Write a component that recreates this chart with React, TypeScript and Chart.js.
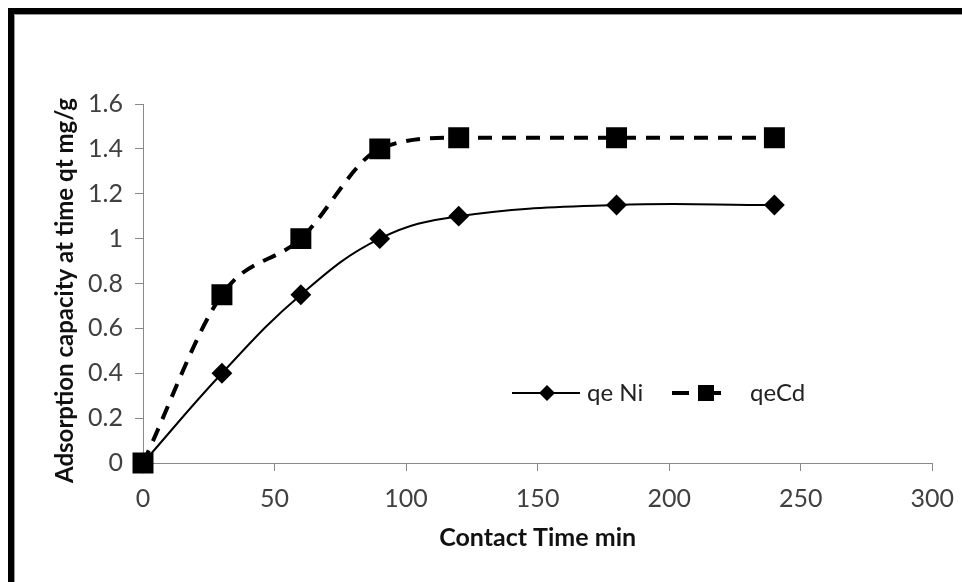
import React, { useEffect, useRef } from "react";
import { Chart, registerables } from "chart.js";

Chart.register(...registerables);

const contactTime = [0, 30, 60, 90, 120, 180, 240];
const qeNi = [0, 0.4, 0.75, 1.0, 1.1, 1.15, 1.15];
const qeCd = [0, 0.75, 1.0, 1.4, 1.45, 1.45, 1.45];
const seriesLabels = ["qe Ni", "qeCd"];
const xTitle = "Contact Time min";
const yTitle = "Adsorption capacity at time qt mg/g";

const FONT = "Lato, 'Open Sans', sans-serif";

const legendPlugin = {
  id: "customLegend",
  afterDraw(chart: any) {
    const { ctx, chartArea: a } = chart;
    const y = a.top + (a.bottom - a.top) * 0.805;
    const L = a.left;
    ctx.save();
    ctx.strokeStyle = "#000";
    ctx.lineWidth = 2;
    ctx.setLineDash([]);
    ctx.beginPath();
    ctx.moveTo(L + 369, y);
    ctx.lineTo(L + 437, y);
    ctx.stroke();
    ctx.fillStyle = "#000";
    const dx = L + 404;
    const r = 8;
    ctx.beginPath();
    ctx.moveTo(dx - r, y);
    ctx.lineTo(dx, y - r);
    ctx.lineTo(dx + r, y);
    ctx.lineTo(dx, y + r);
    ctx.closePath();
    ctx.fill();
    ctx.font = `24px ${FONT}`;
    ctx.textBaseline = "middle";
    ctx.textAlign = "left";
    ctx.fillStyle = "#222";
    ctx.fillText(seriesLabels[0], L + 444, y);
    ctx.lineWidth = 4;
    ctx.strokeStyle = "#000";
    ctx.beginPath();
    ctx.moveTo(L + 529, y);
    ctx.lineTo(L + 546, y);
    ctx.moveTo(L + 570, y);
    ctx.lineTo(L + 578, y);
    ctx.stroke();
    ctx.fillStyle = "#000";
    ctx.fillRect(L + 555, y - 8, 16, 16);
    ctx.fillStyle = "#222";
    ctx.fillText(seriesLabels[1], L + 607, y);

    // y-axis title (slightly below axis centre, as in the original)
    ctx.translate(a.left - 78, (a.top + a.bottom) / 2 + 7);
    ctx.rotate(-Math.PI / 2);
    ctx.font = `bold 24px ${FONT}`;
    ctx.textAlign = "center";
    ctx.textBaseline = "middle";
    ctx.fillStyle = "#111";
    ctx.fillText(yTitle, 0, 0);
    ctx.restore();
  },
};

export default function App() {
  const ref = useRef<HTMLCanvasElement>(null);
  useEffect(() => {
    if (!ref.current) return;
    const chart = new Chart(ref.current, {
      type: "line",
      data: {
        datasets: [
          {
            label: seriesLabels[0],
            data: contactTime.map((t, i) => ({ x: t, y: qeNi[i] })),
            borderColor: "#000",
            backgroundColor: "#000",
            borderWidth: 2,
            pointStyle: "rectRot",
            pointRadius: 9,
            pointHoverRadius: 9,
            tension: 0.4,
            clip: false as any,
            order: 1,
          },
          {
            label: seriesLabels[1],
            data: contactTime.map((t, i) => ({ x: t, y: qeCd[i] })),
            borderColor: "#000",
            backgroundColor: "#000",
            borderWidth: 4,
            borderDash: [14, 10],
            pointStyle: "rect",
            pointRadius: 12,
            pointHoverRadius: 12,
            cubicInterpolationMode: "monotone",
            clip: false as any,
            order: 0,
          },
        ],
      },
      options: {
        animation: false,
        responsive: false,
        devicePixelRatio: 1,
        layout: { padding: { left: 37, right: 26, top: 90, bottom: 29 } },
        plugins: { legend: { display: false }, tooltip: { enabled: false } },
        scales: {
          x: {
            type: "linear",
            min: 0,
            max: 300,
            afterFit: (s: any) => {
              s.height = 90;
            },
            ticks: {
              stepSize: 50,
              font: { size: 25, family: FONT },
              color: "#404040",
              padding: 13,
            },
            grid: {
              display: true,
              drawOnChartArea: false,
              drawTicks: true,
              tickLength: 8,
              color: "#888",
            },
            border: { display: true, color: "#888", width: 1 },
            title: {
              display: true,
              text: xTitle,
              font: { size: 25, weight: "bold", family: FONT },
              color: "#111",
              padding: 0,
            },
          },
          y: {
            type: "linear",
            min: 0,
            max: 1.6,
            afterFit: (s: any) => {
              s.width = 92;
            },
            ticks: {
              stepSize: 0.2,
              font: { size: 25, family: FONT },
              color: "#404040",
              padding: 12,
              callback: (v: any) => String(Number(Number(v).toFixed(1))),
            },
            grid: {
              display: true,
              drawOnChartArea: false,
              drawTicks: true,
              tickLength: 8,
              color: "#888",
            },
            border: { display: true, color: "#888", width: 1 },
            title: { display: false },
          },
        },
      },
      plugins: [legendPlugin],
    });
    return () => chart.destroy();
  }, []);

  return (
    <div
      style={{
        position: "fixed",
        left: 8,
        top: 8,
        width: 954,
        height: 574,
        boxSizing: "border-box",
        borderTop: "6px solid #000",
        borderLeft: "6px solid #000",
        background: "#fff",
        boxShadow: "inset 1px 1px 0 #999",
        overflow: "hidden",
      }}
    >
      <canvas ref={ref} width={953} height={568} style={{ display: "block" }} />
    </div>
  );
}
